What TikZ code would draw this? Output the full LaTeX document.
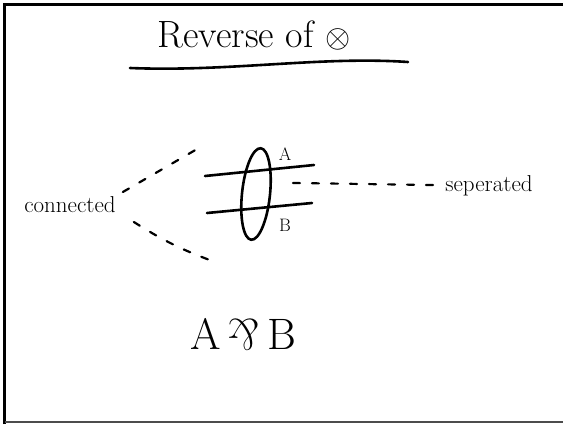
\documentclass[tikz,border=0pt]{standalone}
\usepackage{amsmath}
\usepackage{graphicx}
\usepackage{tikz}
\usetikzlibrary{positioning,calc,shapes.geometric}
\newcommand{\parrsym}{\raisebox{0.68em}{\rotatebox{180}{\&}}}

\begin{document}
\begin{tikzpicture}[
  x=1pt, y=-1pt,
  ink/.style={line width=2.6pt,line cap=round,black},
  frame/.style={line width=3pt,black},
  dotted link/.style={line width=2.2pt,line cap=round,dash pattern=on 7pt off 12pt},
  hand/.style={inner sep=0pt,text=black},
  lbl/.style={hand,font=\fontsize{18}{18}\selectfont}
]
\useasboundingbox (0,0) rectangle (563,424);

% frame
\draw[frame] (4.5,424) -- (4.5,4.5) -- (563,4.5);
\draw[line width=1.5pt,black!70] (4.5,422) -- (563,422);

% title
\node[hand,font=\fontsize{38}{38}\selectfont] (title) at (254,36)
  {Reverse of \scalebox{1.3}{$\otimes$}};
\draw[ink] (130,68) .. controls (230,72) and (320,56) .. (408,62);

% wires A and B with the ring
\node[hand,draw,line width=2.6pt,ellipse,minimum width=28pt,minimum height=92pt,
      rotate=-6] (ring) at (256,194) {};
\draw[ink] (205,176) -- (314,165);
\draw[ink] (207,213) -- (312,203);
\node[lbl] (wa) at (285,154) {A};
\node[lbl] (wb) at (285,225) {B};

% side labels
\node[hand,font=\fontsize{23}{23}\selectfont] (conn) at (70,205) {connected};
\node[hand,font=\fontsize{23}{23}\selectfont] (sep) at (489,186) {seperated};

\coordinate (uptip) at (204,145);
\coordinate (lowtip) at (215,262);
\coordinate (gap) at (293,183);
\draw[dotted link] ($(conn.east)+(7,-13)$) -- (uptip);
\draw[dotted link] ($(conn.east)+(18,17)$) to[bend right=6] (lowtip);
\draw[dotted link] (gap) -- ($(sep.west)+(-12,-1)$);

% result
\node[hand,font=\fontsize{44}{44}\selectfont] (res) at (243,335) {A\,\parrsym\,B};
\end{tikzpicture}
\end{document}
